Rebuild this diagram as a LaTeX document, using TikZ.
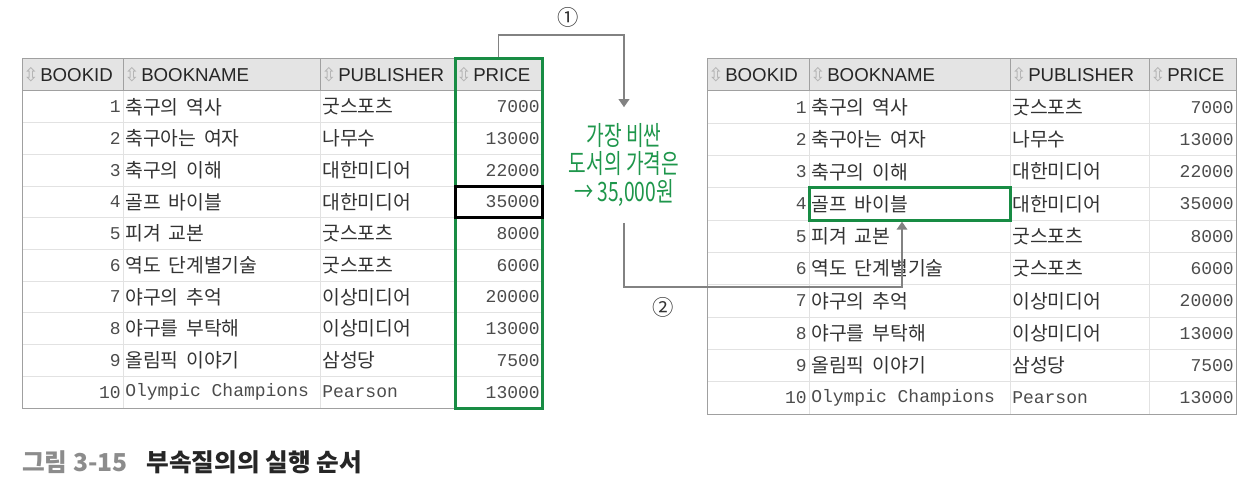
\documentclass[tikz,border=0pt]{standalone}
\usepackage{fontspec}
\usetikzlibrary{arrows.meta,fit,positioning}
\setmainfont{Noto Sans CJK KR}
\newfontfamily\kr[WordSpace=1.8]{Noto Sans CJK KR}
\newfontfamily\mono{Liberation Mono}
\newfontfamily\hdr{Liberation Sans}
\newfontfamily\sym{DejaVu Sans}
\newfontfamily\notefont[FakeStretch=0.72]{Noto Sans CJK KR}
\definecolor{boxgreen}{RGB}{24,140,68}
\definecolor{notegreen}{RGB}{30,150,75}
\definecolor{gridgray}{RGB}{226,226,226}
\definecolor{framegray}{RGB}{160,160,160}
\definecolor{headgray}{RGB}{228,228,228}
\definecolor{conngray}{RGB}{130,130,130}
\definecolor{capgray}{RGB}{140,140,140}

\begin{document}
\begin{tikzpicture}[x=0.75pt,y=-0.75pt,
  cell/.style={inner sep=0pt,anchor=west,font=\kr\fontsize{14.5}{16}\selectfont,text=black!80},
  num/.style={inner sep=0pt,anchor=east,font=\mono\fontsize{13.5}{15}\selectfont,text=black!70},
  head/.style={inner sep=0pt,anchor=west,font=\hdr\fontsize{14}{16}\selectfont,text=black!85},
  sorticon/.style={inner sep=0pt,font=\sym\fontsize{14}{15}\selectfont,text=black!30},
  selbox/.style={draw=boxgreen,line width=2.25pt,inner sep=0pt},
  conn/.style={draw=conngray,line width=1.1pt,-{Triangle[width=8pt,length=6pt]}}]

\useasboundingbox (0,0) rectangle (1249,481);

\foreach \tb/\xa/\xb/\xc/\xd/\xe/\h in {l/22/123/320/455/542/31.7, r/707/809/1010/1149/1236/32.3}{
  \fill[headgray] (\xa,59) rectangle (\xe,91);
  \foreach \i in {1,...,9}
    \draw[gridgray,line width=0.75pt] (\xa,91+\i*\h) -- (\xe,91+\i*\h);
  \foreach \x in {\xb,\xc,\xd}
    \draw[gridgray,line width=0.75pt] (\x,91) -- (\x,91+10*\h);
  \foreach \x in {\xb,\xc,\xd}
    \draw[framegray,line width=0.75pt] (\x,59) -- (\x,91);
  \draw[framegray,line width=0.75pt] (\xa,91) -- (\xe,91);
  \draw[framegray,line width=0.75pt] (\xa,59) rectangle (\xe,91+10*\h);
  \foreach \x/\lab [count=\k] in {\xa/BOOKID,\xb/BOOKNAME,\xc/PUBLISHER,\xd/PRICE}{
    \node[sorticon] (\tb-icon-\k) at (\x+9,75) {⇳};
    \node[head] (\tb-head-\k) at (\x+18,75) {\lab};
  }
  \foreach \i/\name/\pub/\price in {1/축구의 역사/굿스포츠/7000, 2/축구아는 여자/나무수/13000,
      3/축구의 이해/대한미디어/22000, 4/골프 바이블/대한미디어/35000, 5/피겨 교본/굿스포츠/8000,
      6/역도 단계별기술/굿스포츠/6000, 7/야구의 추억/이상미디어/20000, 8/야구를 부탁해/이상미디어/13000,
      9/올림픽 이야기/삼성당/7500, 10/{\mono\fontsize{13.5}{15}\selectfont\color{black!70}Olympic Champions}/{\mono\fontsize{13.5}{15}\selectfont\color{black!70}Pearson}/13000}{
    \node[num] (\tb-id-\i) at (\xb-2,91+\i*\h-0.5*\h) {\i};
    \node[cell] (\tb-name-\i) at (\xb+2,91+\i*\h-0.5*\h) {\name};
    \node[cell] (\tb-pub-\i) at (\xc+2,91+\i*\h-0.5*\h) {\pub};
    \node[num] (\tb-price-\i) at (\xe-2,91+\i*\h-0.5*\h) {\price};
  }
}

\node[selbox,fit={(455.5,59) (542,408)}] (lcol) {};
\node[draw=black,line width=2.25pt,inner sep=0pt,fit={(455.5,186.1) (542,217.8)}] (lsel) {};
\node[selbox,fit={(809,187.9) (1010,220.2)}] (rsel) {};

\node[align=center,font=\notefont\fontsize{20}{21}\selectfont,text=notegreen,inner xsep=0pt,inner ysep=12pt] (note) at (624,165) {가장 비싼\\도서의 가격은\\→ 35,000원};

\draw[conn] (lcol.north) -- ++(0,-22.5) -| (note.north);
\coordinate (turn) at (902,287);
\draw[conn] (note.south) |- (turn) -- (turn |- rsel.south);

\node[font=\fontsize{16}{18}\selectfont,text=black!80] (one) at (568,17) {①};
\node[font=\fontsize{16}{18}\selectfont,text=black!80] (two) at (663,307) {②};

\node[anchor=west,inner sep=0pt,font=\bfseries\fontsize{18.5}{21}\selectfont,text=black!85] (caption) at (22,462) {\textcolor{capgray}{그림 3-15}\hspace{14pt}부속질의의 실행 순서};

\end{tikzpicture}
\end{document}
